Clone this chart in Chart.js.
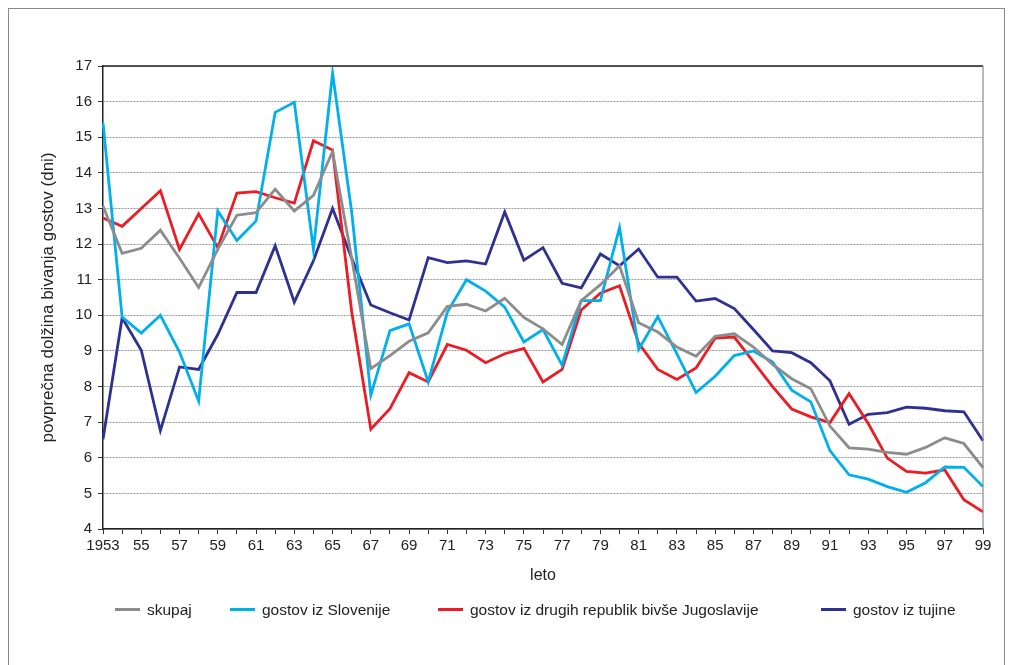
<!DOCTYPE html>
<html lang="sl">
<head>
    <meta charset="UTF-8">
    <title>Povprečna dolžina bivanja gostov</title>
    <script src="https://cdn.jsdelivr.net/npm/chart.js"></script>
    <style>
        html, body { margin: 0; padding: 0; background: #fff; }
        body { width: 1012px; height: 665px; position: relative; overflow: hidden; font-family: 'Liberation Sans', Arial, sans-serif; }
        .frame { position: absolute; left: 8px; top: 8px; width: 997px; height: 660px; border: 1px solid #8a8a8a; box-sizing: border-box; }
        #wrap { position: absolute; left: 0; top: 0; width: 1012px; height: 665px; }
        .legend-item { position: absolute; top: 600px; font-size: 15.5px; color: #222; white-space: nowrap; line-height: 19px; }
        .legend-item span.line { display: inline-block; width: 25px; height: 3px; vertical-align: middle; margin-right: 7px; margin-top: -2px; }
    </style>
</head>
<body>
    <div class="frame"></div>
    <div id="wrap"><canvas id="chart" width="1012" height="665"></canvas></div>
    <div id="legend"></div>

    <script>
        // leta 1953-1999
        const years = [1953,1954,1955,1956,1957,1958,1959,1960,1961,1962,
                       1963,1964,1965,1966,1967,1968,1969,1970,1971,1972,
                       1973,1974,1975,1976,1977,1978,1979,1980,1981,1982,
                       1983,1984,1985,1986,1987,1988,1989,1990,1991,1992,
                       1993,1994,1995,1996,1997,1998,1999];

        const skupaj = [13.07,11.74,11.88,12.39,11.6,10.78,11.85,12.81,12.88,13.54,
                        12.93,13.37,14.6,11.6,8.5,8.87,9.27,9.51,10.25,10.31,
                        10.12,10.48,9.94,9.62,9.18,10.41,10.86,11.39,9.79,9.53,
                        9.11,8.85,9.41,9.48,9.11,8.62,8.22,7.94,6.89,6.28,
                        6.24,6.15,6.1,6.29,6.56,6.4,5.72];

        const slovenija = [15.4,9.95,9.5,10.0,8.97,7.59,12.93,12.1,12.65,15.7,
                           15.98,11.85,16.8,12.9,7.76,9.57,9.76,8.13,10.09,11.0,
                           10.68,10.23,9.25,9.6,8.6,10.41,10.41,12.46,9.04,9.96,
                           8.92,7.83,8.29,8.87,9.0,8.69,7.9,7.57,6.2,5.52,
                           5.4,5.19,5.03,5.3,5.74,5.73,5.19];

        const jugoslavija = [12.73,12.5,13.0,13.5,11.85,12.85,11.9,13.43,13.47,13.3,
                             13.15,14.9,14.64,10.1,6.8,7.38,8.39,8.13,9.18,9.02,
                             8.67,8.92,9.07,8.13,8.48,10.15,10.62,10.83,9.22,8.48,
                             8.2,8.52,9.36,9.39,8.69,8.0,7.37,7.15,6.99,7.8,
                             6.96,5.99,5.62,5.57,5.66,4.82,4.48];

        const tujina = [6.52,9.93,9.02,6.76,8.55,8.48,9.46,10.64,10.64,11.95,
                        10.37,11.53,13.0,11.6,10.29,10.07,9.87,11.62,11.48,11.53,
                        11.44,12.9,11.55,11.9,10.9,10.77,11.72,11.39,11.86,11.07,
                        11.07,10.4,10.47,10.19,9.6,9.0,8.95,8.67,8.16,6.94,
                        7.22,7.27,7.42,7.39,7.32,7.29,6.48];

        const seriesLabels = ['skupaj', 'gostov iz Slovenije', 'gostov iz drugih republik bivše Jugoslavije', 'gostov iz tujine'];
        const seriesColors = ['#8c8c8c', '#00b0ec', '#ec1c24', '#2e3192'];
        const legendLeft = [115, 230, 438, 821];

        const font = "'Liberation Sans', Arial, sans-serif";
        Chart.defaults.font.family = font;
        Chart.defaults.color = '#222';

        // okvir: zgornja (črna) in desna (siva) črta
        const framePlugin = {
            id: 'plotFrame',
            afterDraw(chart) {
                const a = chart.chartArea;
                const c = chart.ctx;
                c.save();
                c.lineWidth = 1.5;
                c.strokeStyle = '#222';
                c.beginPath();
                c.moveTo(a.left, a.top);
                c.lineTo(a.right, a.top);
                c.stroke();
                c.strokeStyle = '#8a8a8a';
                c.lineWidth = 1.2;
                c.beginPath();
                c.moveTo(a.right, a.top);
                c.lineTo(a.right, a.bottom);
                c.stroke();
                c.restore();
            }
        };

        const allData = [skupaj, slovenija, jugoslavija, tujina];

        const chart = new Chart(document.getElementById('chart'), {
            type: 'line',
            data: {
                labels: years,
                datasets: allData.map((d, i) => ({
                    label: seriesLabels[i],
                    data: d,
                    borderColor: seriesColors[i],
                    backgroundColor: seriesColors[i],
                    borderWidth: 2.8,
                    pointRadius: 0,
                    tension: 0,
                    fill: false
                }))
            },
            options: {
                responsive: false,
                animation: false,
                layout: { padding: { left: 34, right: 29, top: 66, bottom: 80 } },
                plugins: {
                    legend: { display: false },
                    tooltip: { enabled: false }
                },
                scales: {
                    x: {
                        type: 'category',
                        offset: false,
                        afterFit(axis) { axis.height = 56; },
                        grid: {
                            drawOnChartArea: false,
                            drawTicks: true,
                            tickLength: 5,
                            tickColor: '#333'
                        },
                        border: { color: '#222', width: 1.5 },
                        ticks: {
                            autoSkip: false,
                            maxRotation: 0,
                            padding: 3,
                            font: { size: 15 },
                            color: '#222',
                            callback: function (value, index) {
                                const y = years[index];
                                if (index === 0) return String(y);
                                return y % 2 === 1 ? String(y).slice(2) : '';
                            }
                        },
                        title: {
                            display: true,
                            text: 'leto',
                            font: { size: 16 },
                            color: '#222',
                            padding: { top: 4, bottom: 0 }
                        }
                    },
                    y: {
                        min: 4,
                        max: 17,
                        afterFit(axis) { axis.width = 69; },
                        grid: {
                            color: '#9a9a9a',
                            lineWidth: 1,
                            drawTicks: true,
                            tickLength: 5,
                            tickColor: '#333',
                            tickBorderDash: []
                        },
                        border: { color: '#222', width: 1.5, dash: [2, 1] },
                        ticks: {
                            stepSize: 1,
                            padding: 6,
                            font: { size: 15 },
                            color: '#222'
                        },
                        title: {
                            display: true,
                            text: 'povprečna dolžina bivanja gostov (dni)',
                            font: { size: 17 },
                            color: '#222',
                            padding: { top: 4, bottom: 4 }
                        }
                    }
                }
            },
            plugins: [framePlugin]
        });

        // legenda
        const legend = document.getElementById('legend');
        seriesLabels.forEach((lab, i) => {
            const item = document.createElement('div');
            item.className = 'legend-item';
            item.style.left = legendLeft[i] + 'px';
            item.innerHTML = '<span class="line" style="background:' + seriesColors[i] + '"></span>' + lab;
            legend.appendChild(item);
        });
    </script>
</body>
</html>
